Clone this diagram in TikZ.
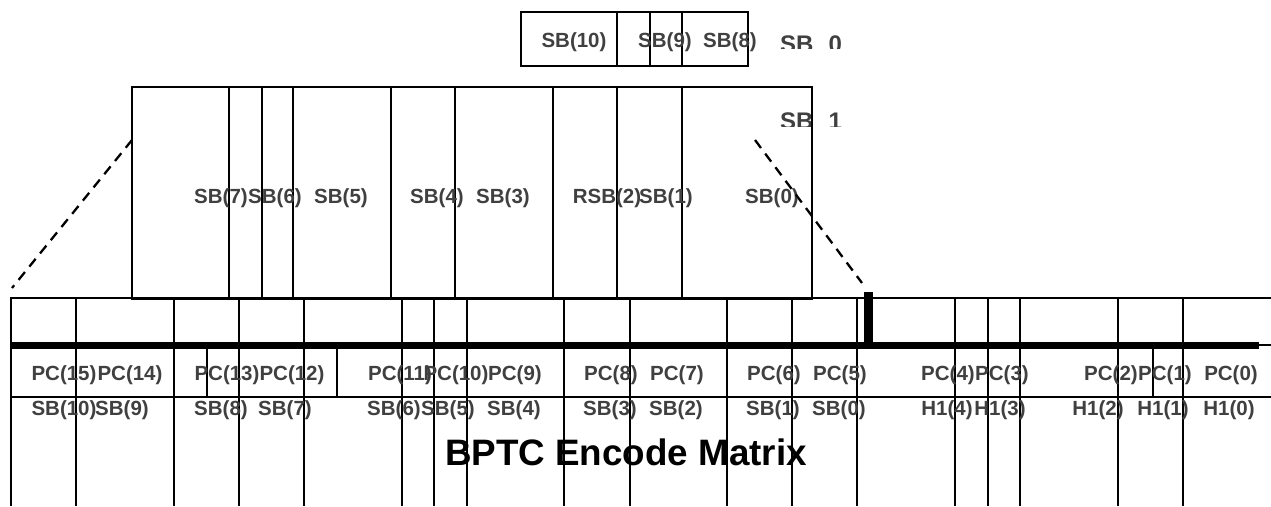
\documentclass[tikz,border=0pt]{standalone}
\usepackage{fontspec}
\setmainfont{Liberation Sans}
\definecolor{labelgray}{HTML}{404040}
\tikzset{
  lbl/.style={font=\bfseries\fontsize{20.5}{24}\selectfont, text=labelgray, inner sep=0pt, anchor=base},
  biglbl/.style={font=\bfseries\fontsize{24}{28}\selectfont, text=labelgray, inner sep=0pt, anchor=base west},
  gridline/.style={line width=2.3pt},
  zoomline/.style={line width=2.3pt, dash pattern=on 10pt off 7pt}
}
\begin{document}
\begin{tikzpicture}[x=1pt,y=-1pt]
  \useasboundingbox (0,0) rectangle (1271,506);
  % upper box, SB 0
  \draw[gridline] (521,12) rectangle (748,66);
  \foreach \x in {617,650,682} \draw[gridline] (\x,12) -- (\x,66);
  \foreach \x/\t/\n in {574/SB(10)/top10, 665/SB(9)/top9, 730/SB(8)/top8}
    \node[lbl] (\n) at (\x,47) {\t};
  \begin{scope}
    \clip (770,0) rectangle (860,48);
    \node[biglbl] (sbzero) at (780,52) {SB\hspace{15pt}0};
  \end{scope}
  % middle box, SB 1
  \draw[gridline] (132,87) rectangle (812,299);
  \foreach \x in {229,262,293,391,455,553,617,682} \draw[gridline] (\x,87) -- (\x,299);
  \foreach \x/\t/\n in {221/SB(7)/mid7, 275/SB(6)/mid6, 341/SB(5)/mid5, 437/SB(4)/mid4,
      503/SB(3)/mid3, 607/RSB(2)/mid2, 666/SB(1)/mid1, 772/SB(0)/mid0}
    \node[lbl] (\n) at (\x,203) {\t};
  \begin{scope}
    \clip (770,100) rectangle (860,126);
    \node[biglbl] (sbone) at (780,129) {SB\hspace{15pt}1};
  \end{scope}
  \draw[gridline] (812,99) -- (812,130);
  % zoom lines down to the matrix
  \coordinate (zl1) at (132,140);
  \coordinate (zl2) at (12,288);
  \coordinate (zr1) at (755,140);
  \coordinate (zr2) at (862,283);
  \draw[zoomline] (zl1) -- (zl2);
  \draw[zoomline] (zr1) -- (zr2);
  \fill (864,292) rectangle (873,345);
  % encode matrix
  \draw[gridline] (11,506) -- (11,298) -- (1271,298);
  \draw[gridline] (11,397) -- (1271,397);
  \draw[line width=7pt] (11,345) -- (1259,345);
  \draw[gridline] (1259,345) -- (1271,345);
  \foreach \x in {76,174,239,304,402,434,467,564,630,727,792,857,955,988,1020,1118,1183}
    \draw[gridline] (\x,298) -- (\x,506);
  \foreach \x in {207,337,1153} \draw[gridline] (\x,345) -- (\x,397);
  % parity check row
  \foreach \x/\t/\n in {64/PC(15)/pc15, 130/PC(14)/pc14, 227/PC(13)/pc13, 292/PC(12)/pc12,
      400/PC(11)/pc11, 456/PC(10)/pc10, 515/PC(9)/pc9, 611/PC(8)/pc8, 677/PC(7)/pc7,
      774/PC(6)/pc6, 840/PC(5)/pc5, 948/PC(4)/pc4, 1002/PC(3)/pc3, 1111/PC(2)/pc2,
      1165/PC(1)/pc1, 1231/PC(0)/pc0}
    \node[lbl] (\n) at (\x,380) {\t};
  % data and hamming row
  \foreach \x/\t/\n in {64/SB(10)/sb10, 122/SB(9)/sb9, 221/SB(8)/sb8, 285/SB(7)/sb7,
      394/SB(6)/sb6, 448/SB(5)/sb5, 514/SB(4)/sb4, 610/SB(3)/sb3, 676/SB(2)/sb2,
      773/SB(1)/sb1, 839/SB(0)/sb0, 947/H1(4)/ha4, 1000/H1(3)/ha3, 1098/H1(2)/ha2,
      1163/H1(1)/ha1, 1229/H1(0)/ha0}
    \node[lbl] (\n) at (\x,415) {\t};
  \node[font=\bfseries\fontsize{36.8}{40}\selectfont, inner sep=0pt, anchor=base] (title) at (626,465) {BPTC Encode Matrix};
\end{tikzpicture}
\end{document}
